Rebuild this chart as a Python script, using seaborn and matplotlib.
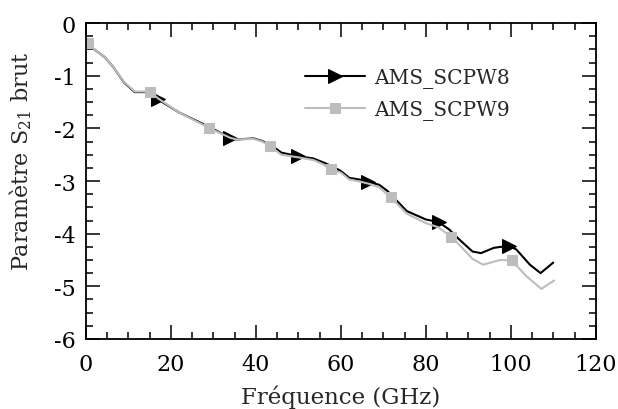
import matplotlib
matplotlib.use("Agg")
import matplotlib.pyplot as plt
import seaborn as sns
from matplotlib.ticker import MultipleLocator

# AMS_SCPW8 (black, triangles)
freq8 = [0, 2, 4.5, 6.5, 9, 11.5, 14.5, 17, 22, 29, 34, 35.5, 39.5, 41.5, 43.5, 46,
         50, 53.5, 56, 58, 60, 62, 65, 66.5, 69, 71, 75.5, 80, 83, 85.5, 88, 91, 93,
         96, 99.5, 101.3, 104.5, 107, 110]
s21_8 = [-0.38, -0.5, -0.65, -0.84, -1.13, -1.31, -1.31, -1.45, -1.70, -1.97, -2.18,
         -2.21, -2.19, -2.24, -2.31, -2.46, -2.53, -2.57, -2.65, -2.72, -2.81, -2.94,
         -2.98, -3.02, -3.07, -3.19, -3.57, -3.73, -3.78, -3.92, -4.12, -4.34, -4.37,
         -4.27, -4.23, -4.30, -4.59, -4.75, -4.55]
marks8 = [0, 7, 10, 16, 23, 28, 34]

# AMS_SCPW9 (gray, squares)
freq9 = [0.5, 2, 4.5, 6.5, 9, 11.5, 15, 17, 22, 29, 34, 35.5, 39.5, 41.5, 43.3, 46,
         50, 53.5, 55.8, 57.6, 60, 62, 65, 67, 69, 71.8, 75.5, 80, 83, 86, 88, 91,
         93.5, 97.5, 100.2, 103.7, 107.2, 110.2]
s21_9 = [-0.38, -0.5, -0.65, -0.84, -1.12, -1.30, -1.30, -1.43, -1.70, -1.99, -2.18,
         -2.21, -2.20, -2.25, -2.33, -2.50, -2.55, -2.60, -2.68, -2.78, -2.84, -2.97,
         -3.02, -3.06, -3.12, -3.31, -3.62, -3.80, -3.88, -4.06, -4.22, -4.48, -4.59,
         -4.50, -4.51, -4.81, -5.05, -4.89]
marks9 = [0, 6, 9, 14, 19, 25, 29, 34]

sns.set_style("ticks")
plt.rcParams['font.family'] = ['DejaVu Serif']
plt.rcParams['mathtext.fontset'] = 'dejavuserif'
plt.rcParams['axes.unicode_minus'] = False

fig = plt.figure(figsize=(6.18, 4.10), dpi=100)
ax = fig.add_axes([0.139, 0.171, 0.825, 0.770])

sns.lineplot(x=freq8, y=s21_8, ax=ax, color='black', lw=1.5, marker='>',
             markersize=9.5, markevery=marks8, markeredgecolor='black',
             estimator=None, sort=False, label='AMS_SCPW8')
sns.lineplot(x=freq9, y=s21_9, ax=ax, color='#bdbdbd', lw=1.5, marker='s',
             markersize=7.5, markevery=marks9, markeredgecolor='#bdbdbd',
             estimator=None, sort=False, label='AMS_SCPW9')

ax.set_xlim(0, 120)
ax.set_ylim(-6, 0)
ax.xaxis.set_major_locator(MultipleLocator(20))
ax.xaxis.set_minor_locator(MultipleLocator(5))
ax.yaxis.set_major_locator(MultipleLocator(1))
ax.yaxis.set_minor_locator(MultipleLocator(0.25))
ax.tick_params(which='both', direction='in', top=True, right=True, width=1.1,
               labelsize=16, colors='black')
ax.tick_params(which='major', length=10)
ax.tick_params(axis='x', which='major', pad=10)
ax.tick_params(axis='y', which='major', pad=7)
ax.tick_params(which='minor', length=5)
for sp in ax.spines.values():
    sp.set_linewidth(1.3)
    sp.set_color('black')

ax.set_xlabel("Fréquence (GHz)", fontsize=16.5)
ax.set_ylabel("Paramètre S$_{21}$ brut", fontsize=16)
ax.xaxis.set_label_coords(0.5, -0.145)
ax.yaxis.set_label_coords(-0.102, 0.566)

ax.legend(loc='center left', bbox_to_anchor=(0.429, 0.776), frameon=False,
          fontsize=14.5, handlelength=3.0, handletextpad=0.45, labelspacing=0.6,
          borderpad=0, borderaxespad=0)

fig.savefig("out.png", dpi=100)
